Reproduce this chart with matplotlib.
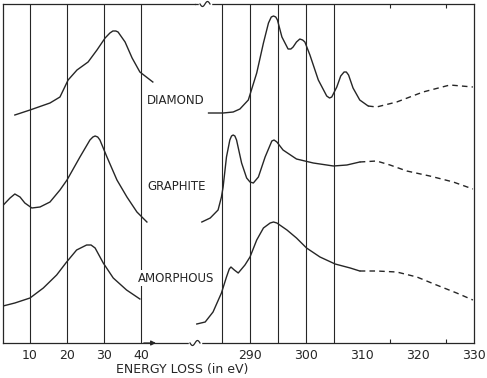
import matplotlib.pyplot as plt
import matplotlib.transforms as mtransforms
import numpy as np

# energy loss (eV) and intensity (arb. units)
diamond_lo_e = [5.9, 10.0, 15.4, 18.1, 20.3, 22.7, 25.7, 28.1, 30.3, 31.6, 32.4, 33.2, 33.8, 35.7,
                37.6, 39.7, 43.2]
diamond_lo_i = [228, 233, 240, 246, 263, 273, 281, 293, 305, 310, 312, 312, 311, 301,
                285, 271, 261]

diamond_hi_e = [282.6, 285.2, 287.0, 288.2, 289.7, 291.2, 292.4, 293.3, 293.8, 294.2, 294.6, 294.9,
                295.7, 296.8, 297.3, 297.7, 298.3, 298.9, 299.4, 299.8, 300.7, 302.2, 303.7,
                304.2, 304.6, 305.5, 306.2, 306.8, 307.2, 307.6, 308.4, 309.6, 311.1]
diamond_hi_i = [230, 230, 231, 234, 243, 270, 300, 320, 326, 327, 326, 323,
                306, 294, 294, 296, 301, 304, 303, 301, 288, 263, 247,
                245, 246, 256, 267, 271, 271, 268, 255, 243, 237]
diamond_dash_e = [311.1, 312.6, 316.2, 320.9, 325.7, 329.8]
diamond_dash_i = [237, 236, 241, 251, 258, 256]

graphite_lo_e = [2.8, 4.6, 5.9, 7.3, 8.6, 10.5, 12.7, 15.4, 18.1, 20.0, 23.5, 26.2, 27.0, 27.6,
                 28.3, 28.9, 30.8, 33.5, 36.2, 38.9, 41.6]
graphite_lo_i = [138, 145, 149, 146, 140, 135, 136, 141, 153, 163, 186, 203, 206, 207,
                 206, 203, 186, 163, 146, 131, 121]

graphite_hi_e = [281.4, 282.9, 284.3, 284.9, 285.2, 285.8, 286.4, 286.7, 287.0, 287.3, 287.6,
                 288.5, 289.4, 290.0, 290.6, 291.5, 292.7, 293.9, 294.3, 294.8, 295.9, 298.3,
                 301.3, 304.9, 307.3, 309.6]
graphite_hi_i = [121, 125, 133, 146, 156, 186, 203, 207, 208, 207, 203,
                 180, 165, 161, 160, 166, 186, 202, 203, 201, 193, 184,
                 180, 177, 178, 181]
graphite_dash_e = [309.6, 312.6, 315.0, 318.0, 322.1, 326.3, 329.8]
graphite_dash_i = [181, 182, 178, 172, 167, 161, 154]

amorph_lo_e = [2.7, 5.9, 10.0, 13.6, 17.2, 19.9, 22.6, 25.3, 26.5, 27.6, 29.8, 32.5, 36.1, 39.7]
amorph_lo_i = [37, 40, 45, 55, 68, 81, 93, 98, 98, 95, 80, 65, 53, 44]

amorph_hi_e = [280.5, 282.0, 283.4, 284.9, 285.8, 286.3, 286.6, 287.2, 287.9, 289.1, 290.0, 291.2,
               292.4, 293.6, 294.2, 294.8, 296.6, 298.3, 300.1, 302.5, 305.2, 307.9, 309.6]
amorph_hi_i = [19, 21, 31, 50, 66, 74, 76, 73, 70, 78, 86, 103,
               115, 120, 121, 120, 113, 105, 95, 86, 79, 75, 72]
amorph_dash_e = [309.6, 312.6, 316.2, 319.8, 323.3, 326.9, 329.8]
amorph_dash_i = [72, 72, 71, 66, 58, 50, 43]

lo_ticks = [10, 20, 30, 40]
hi_ticks = [290, 300, 310, 320, 330]
hi_lines = [285, 290, 295, 300, 305]
hi_minor = [310, 315, 320, 325]

INK = "#262626"
plt.rcParams["font.family"] = ["DejaVu Sans"]

fig = plt.figure(figsize=(4.87, 3.78), dpi=100)
W, H = 487.0, 378.0
bot = (H - 343) / H
hgt = 339 / H
ax1 = fig.add_axes([3 / W, bot, 192 / W, hgt])
ax2 = fig.add_axes([195 / W, bot, 279 / W, hgt])
ax2.patch.set_visible(False)

for ax in (ax1, ax2):
    ax.set_ylim(0, 339)
    ax.set_yticks([])
    for s in ax.spines.values():
        s.set_color(INK)
        s.set_linewidth(0.9)

ax1.set_xlim(2.7, 54.6)
ax2.set_xlim(280.18, 330)
ax1.spines["right"].set_visible(False)
ax2.spines["left"].set_visible(False)

ax1.set_xticks(lo_ticks)
ax2.set_xticks(hi_ticks)
ax2.set_xticks(hi_minor, minor=True)
for ax in (ax1, ax2):
    ax.tick_params(axis="x", length=0, pad=4, labelsize=9, labelcolor=INK)
ax2.tick_params(axis="x", which="minor", direction="in", length=3, width=0.8,
                color=INK, top=True, bottom=True)

for x in lo_ticks:
    ax1.axvline(x, color=INK, lw=0.8, zorder=1)
for x in hi_lines:
    ax2.axvline(x, color=INK, lw=0.8, zorder=1)

kw = dict(color=INK, lw=1.0, zorder=2, solid_joinstyle="round")
ax1.plot(diamond_lo_e, diamond_lo_i, **kw)
ax1.plot(graphite_lo_e, graphite_lo_i, **kw)
ax1.plot(amorph_lo_e, amorph_lo_i, **kw)
ax2.plot(diamond_hi_e, diamond_hi_i, **kw)
ax2.plot(graphite_hi_e, graphite_hi_i, **kw)
ax2.plot(amorph_hi_e, amorph_hi_i, **kw)
for e, i in [(diamond_dash_e, diamond_dash_i), (graphite_dash_e, graphite_dash_i),
             (amorph_dash_e, amorph_dash_i)]:
    ax2.plot(e, i, color=INK, lw=1.0, ls=(0, (4, 3)), zorder=2)

# sample labels, straddling the axis break
lbl = dict(fontsize=8.5, color=INK, ha="center", va="center", zorder=5, clip_on=False,
           bbox=dict(facecolor="white", edgecolor="none", pad=1))
ax1.text(49.5, 243, "DIAMOND", **lbl)
ax1.text(49.6, 157, "GRAPHITE", **lbl)
ax1.text(49.6, 65, "AMORPHOUS", **lbl)

ax1.annotate("", xy=(44.8, 0), xytext=(40, 0), annotation_clip=False,
             arrowprops=dict(arrowstyle="-|>", color=INK, lw=0.9, mutation_scale=7))


def squiggle(ax, xf, yf):
    trans = fig.dpi_scale_trans + mtransforms.ScaledTranslation(xf, yf, ax.transAxes)
    ax.plot([-0.05, 0.05], [0, 0], color="white", lw=2.5, transform=trans, clip_on=False, zorder=6)
    t = np.linspace(-1, 1, 30)
    ax.plot(t * 0.05, 0.025 * np.sin(np.pi * t), color=INK, lw=0.9, transform=trans,
            clip_on=False, zorder=7)


squiggle(ax2, 0.0, 0.0)
squiggle(ax2, 10 / 279, 1.0)

fig.text(182 / W, (H - 369) / H, "ENERGY LOSS (in eV)", fontsize=9, color=INK,
         ha="center", va="center")

fig.savefig("out.png", dpi=100)
